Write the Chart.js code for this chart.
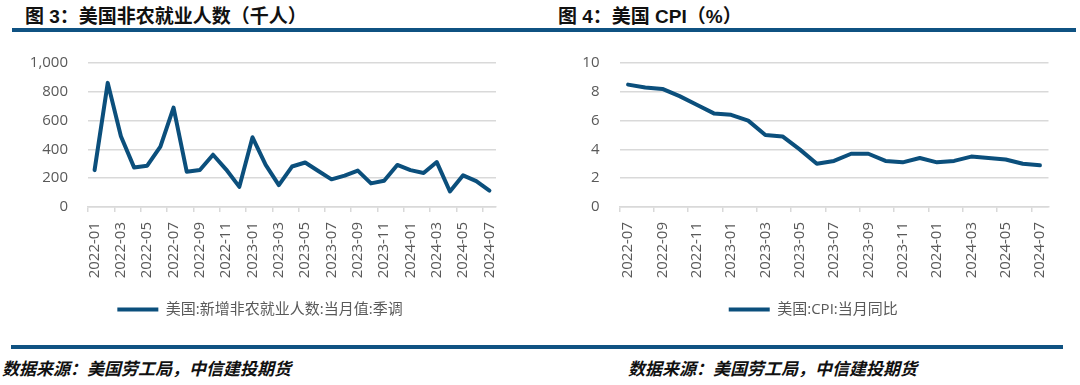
<!DOCTYPE html>
<html>
<head>
<meta charset="utf-8">
<script src="https://cdn.jsdelivr.net/npm/chart.js@4.4.1/dist/chart.umd.min.js"></script>
<style>
  html, body { margin: 0; padding: 0; background: #fff; }
  body { width: 1080px; height: 385px; position: relative; overflow: hidden; }
  .title { position: absolute; top: 1px; font: bold 19px 'Liberation Sans', 'Noto Sans CJK SC', sans-serif; color: #111; white-space: nowrap; }
  .rule { position: absolute; height: 4px; background: #0f5282; }
  .source { position: absolute; top: 355px; font: italic bold 17px 'Noto Sans CJK SC', sans-serif; color: #111; white-space: nowrap; }
  .box { position: absolute; top: 34px; height: 300px; }
</style>
</head>
<body>
<div class="title" style="left:25px;">图 3：美国非农就业人数（千人）</div>
<div class="title" style="left:558px;">图 4：美国 CPI（%）</div>
<div class="rule" style="left:12px; width:1064px; top:28px;"></div>

<div class="box" style="left:24px; width:516px;"><canvas id="nfp-chart"></canvas></div>
<div class="box" style="left:578px; width:502px;"><canvas id="cpi-chart"></canvas></div>

<div class="rule" style="left:11px; width:1052px; top:345px;"></div>
<div class="source" style="left:2px;">数据来源：美国劳工局，中信建投期货</div>
<div class="source" style="left:628px;">数据来源：美国劳工局，中信建投期货</div>

<script>
// data
var nfpMonths = ["2022-01","2022-02","2022-03","2022-04","2022-05","2022-06","2022-07","2022-08","2022-09","2022-10","2022-11","2022-12",
                 "2023-01","2023-02","2023-03","2023-04","2023-05","2023-06","2023-07","2023-08","2023-09","2023-10","2023-11","2023-12",
                 "2024-01","2024-02","2024-03","2024-04","2024-05","2024-06","2024-07"];
var nfpValues = [256, 862, 492, 275, 287, 420, 690, 245, 257, 363, 260, 140,
                 484, 292, 152, 281, 309, 250, 192, 218, 253, 164, 182, 292,
                 256, 236, 312, 108, 220, 180, 114];
var nfpTicks = [0, 200, 400, 600, 800, 1000];

var cpiMonths = ["2022-07","2022-08","2022-09","2022-10","2022-11","2022-12",
                 "2023-01","2023-02","2023-03","2023-04","2023-05","2023-06","2023-07","2023-08","2023-09","2023-10","2023-11","2023-12",
                 "2024-01","2024-02","2024-03","2024-04","2024-05","2024-06","2024-07"];
var cpiValues = [8.5, 8.3, 8.2, 7.7, 7.1, 6.5,
                 6.4, 6.0, 5.0, 4.9, 4.0, 3.0, 3.2, 3.7, 3.7, 3.2, 3.1, 3.4,
                 3.1, 3.2, 3.5, 3.4, 3.3, 3.0, 2.9];
var cpiTicks = [0, 2, 4, 6, 8, 10];

var lineColor = '#0b4f7c';
var gridColor = '#d9d9d9';
var textColor = '#595959';

Chart.defaults.font.family = "'Open Sans', 'Noto Sans CJK SC', sans-serif";
Chart.defaults.font.size = 15;
Chart.defaults.color = textColor;

function makeChart(id, labels, values, yTicks, name, yWidth, pad) {
    return new Chart(document.getElementById(id), {
        type: 'line',
        data: {
            labels: labels,
            datasets: [{
                label: name,
                data: values,
                borderColor: lineColor,
                backgroundColor: lineColor,
                borderWidth: 4,
                borderCapStyle: 'round',
                borderJoinStyle: 'round',
                pointRadius: 0,
                tension: 0,
                fill: false
            }]
        },
        options: {
            responsive: true,
            maintainAspectRatio: false,
            animation: false,
            locale: 'en-US',
            layout: { padding: pad },
            plugins: {
                legend: {
                    display: true,
                    position: 'bottom',
                    labels: {
                        usePointStyle: true,
                        pointStyle: 'line',
                        pointStyleWidth: 41,
                        padding: 15,
                        color: textColor,
                        font: { size: 15 }
                    }
                },
                tooltip: { enabled: false }
            },
            scales: {
                x: {
                    offset: true,
                    grid: {
                        offset: true,
                        drawOnChartArea: false,
                        drawTicks: true,
                        tickLength: 5,
                        lineWidth: 1.5,
                        color: function(c) { return c.index % 2 === 0 ? gridColor : 'rgba(0,0,0,0)'; }
                    },
                    border: { display: true, color: gridColor, width: 1.5 },
                    ticks: {
                        autoSkip: false,
                        minRotation: 90,
                        maxRotation: 90,
                        padding: 10,
                        color: textColor,
                        callback: function(v, i) { return i % 2 === 0 ? labels[i] : ''; }
                    },
                    afterFit: function(s) { s.height = 80; }
                },
                y: {
                    min: yTicks[0],
                    max: yTicks[yTicks.length - 1],
                    ticks: {
                        stepSize: yTicks[1] - yTicks[0],
                        padding: 20,
                        color: textColor
                    },
                    grid: { color: gridColor, lineWidth: 1.5, drawTicks: false },
                    border: { display: false },
                    afterFit: function(s) { s.width = yWidth; }
                }
            }
        }
    });
}

// ======
// nonfarm payrolls
// ======
makeChart('nfp-chart', nfpMonths, nfpValues, nfpTicks, '美国:新增非农就业人数:当月值:季调', 64,
    { top: 22.5, right: 44, bottom: 7, left: 0 });

// ======
// CPI
// ======
makeChart('cpi-chart', cpiMonths, cpiValues, cpiTicks, '美国:CPI:当月同比', 41.5,
    { top: 20.7, right: 31.5, bottom: 7, left: 0 });
</script>
</body>
</html>
